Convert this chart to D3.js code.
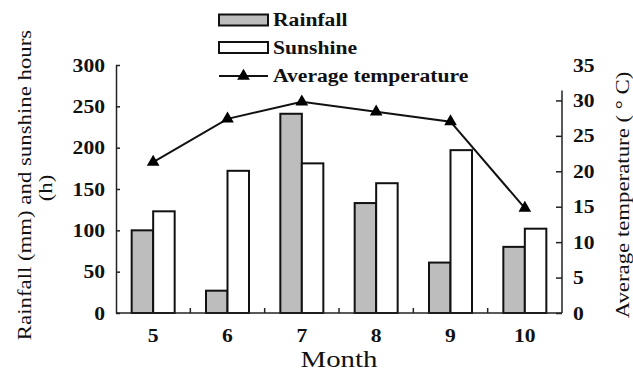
<!DOCTYPE html>
<html>
<head>
<meta charset="utf-8">
<script src="https://cdn.jsdelivr.net/npm/d3@7"></script>
<style>
  body { margin: 0; background: #fff; }
</style>
</head>
<body>
<svg id="chart" width="633" height="371"></svg>
<script>
const months = ['5', '6', '7', '8', '9', '10'];
const rainfall = [100, 27, 241, 133, 61, 80];
const sunshine = [123, 172, 181, 157, 197, 102];
const temperature = [21.3, 27.4, 29.8, 28.4, 27.0, 14.8];
const leftTicks = [0, 50, 100, 150, 200, 250, 300];
const rightTicks = [0, 5, 10, 15, 20, 25, 30, 35];

const W = 633, H = 371;
const margin = {top: 65, right: 71, bottom: 58, left: 116};
const x0 = margin.left, x1 = W - margin.right, yBottom = H - margin.bottom, yTop = margin.top;
const FONT = '"Liberation Serif"';
const STRETCH = 1.2; // source image is a bit wide, so widen the glyphs

const svg = d3.select('#chart');

// set font and widen text horizontally (along its own direction)
function serif(sel, size, weight) {
  sel.style('font-family', FONT)
     .style('font-size', size + 'px')
     .style('font-weight', weight || 'normal')
     .attr('fill', '#111');
  sel.each(function() {
    var len = this.getComputedTextLength();
    d3.select(this).attr('textLength', len * STRETCH).attr('lengthAdjust', 'spacingAndGlyphs');
  });
}

var xScale = d3.scaleBand().domain(months).range([x0, x1]);
var yLeft = d3.scaleLinear().domain([0, 300]).range([yBottom, yTop]);
var yRight = d3.scaleLinear().domain([0, 35]).range([yBottom, yTop]);
var barW = 21.5;

// bars
svg.append('g').selectAll('rect.rain')
  .data(rainfall)
  .enter().append('rect')
  .attr('class', 'rain')
  .attr('x', (d, i) => xScale(months[i]) + xScale.bandwidth() / 2 - barW)
  .attr('y', d => yLeft(d))
  .attr('width', barW)
  .attr('height', d => yBottom - yLeft(d))
  .attr('fill', '#bdbdbd')
  .attr('stroke', '#111')
  .attr('stroke-width', 2);

svg.append('g').selectAll('rect.sun')
  .data(sunshine)
  .enter().append('rect')
  .attr('class', 'sun')
  .attr('x', (d, i) => xScale(months[i]) + xScale.bandwidth() / 2)
  .attr('y', d => yLeft(d))
  .attr('width', barW)
  .attr('height', d => yBottom - yLeft(d))
  .attr('fill', '#fff')
  .attr('stroke', '#111')
  .attr('stroke-width', 2);

// x axis (ticks on band boundaries, pointing up)
var gX = svg.append('g').attr('transform', 'translate(0,' + yBottom + ')');
gX.append('line').attr('x1', x0).attr('x2', x1).attr('stroke', '#222').attr('stroke-width', 1.5);
gX.selectAll('line.tk')
  .data(months.slice(1))
  .enter().append('line')
  .attr('x1', d => xScale(d)).attr('x2', d => xScale(d))
  .attr('y1', 0).attr('y2', -5)
  .attr('stroke', '#222').attr('stroke-width', 1.5);
gX.selectAll('text')
  .data(months)
  .enter().append('text')
  .attr('x', d => xScale(d) + xScale.bandwidth() / 2)
  .attr('y', 29)
  .attr('text-anchor', 'middle')
  .text(d => d)
  .call(serif, 18, 'bold');

// left axis
var gY = svg.append('g')
  .attr('transform', 'translate(' + x0 + ',0)')
  .call(d3.axisRight(yLeft).tickValues(leftTicks).tickSize(4).tickSizeOuter(0));
gY.select('.domain').attr('stroke', '#222').attr('stroke-width', 1.5);
gY.selectAll('.tick line').attr('stroke', '#222').attr('stroke-width', 1.5);
gY.selectAll('.tick text')
  .attr('x', -11).attr('dy', '0.34em')
  .attr('text-anchor', 'end')
  .call(serif, 18, 'bold');

// right axis
var gY2 = svg.append('g')
  .attr('transform', 'translate(' + x1 + ',0)')
  .call(d3.axisLeft(yRight).tickValues(rightTicks).tickSize(6).tickSizeOuter(0));
gY2.select('.domain')
  .attr('d', 'M0,' + yBottom + 'V' + (yRight(31.4)))
  .attr('stroke', '#222').attr('stroke-width', 1.5);
gY2.selectAll('.tick line').attr('stroke', '#222').attr('stroke-width', 1.5)
  .filter(d => d === 35).remove();
gY2.selectAll('.tick text')
  .attr('x', 11).attr('dy', '0.34em')
  .attr('text-anchor', 'start')
  .call(serif, 18, 'bold');

// temperature line
var line = d3.line()
  .x((d, i) => xScale(months[i]) + xScale.bandwidth() / 2)
  .y(d => yRight(d));
svg.append('path')
  .datum(temperature)
  .attr('d', line)
  .attr('fill', 'none')
  .attr('stroke', '#111')
  .attr('stroke-width', 2);
svg.selectAll('path.marker')
  .data(temperature)
  .enter().append('path')
  .attr('class', 'marker')
  .attr('d', d3.symbol().type(d3.symbolTriangle).size(70))
  .attr('transform', (d, i) => 'translate(' + (xScale(months[i]) + xScale.bandwidth() / 2) + ',' + yRight(d) + ')')
  .attr('fill', '#000');

// axis titles
svg.append('text')
  .attr('transform', 'translate(' + (x0 + x1) / 2 + ',' + (H - 4) + ')')
  .attr('text-anchor', 'middle')
  .text('Month')
  .call(serif, 24);

svg.append('text')
  .attr('transform', 'translate(31,185) rotate(-90)')
  .attr('text-anchor', 'middle')
  .text('Rainfall (mm) and sunshine hours')
  .call(serif, 19);
svg.append('text')
  .attr('transform', 'translate(52,188) rotate(-90)')
  .attr('text-anchor', 'middle')
  .text('(h)')
  .call(serif, 19);

svg.append('text')
  .attr('transform', 'translate(629,195) rotate(-90)')
  .attr('text-anchor', 'middle')
  .text('Average temperature ( ° C)')
  .call(serif, 19);

// legend
var legend = svg.append('g').attr('transform', 'translate(219,0)');
var legendItems = ['Rainfall', 'Sunshine', 'Average temperature'];
var rowY = [20, 47.5, 76];
legend.append('rect').attr('x', 0).attr('y', rowY[0] - 5.5).attr('width', 49).attr('height', 11)
  .attr('fill', '#bdbdbd').attr('stroke', '#111').attr('stroke-width', 2);
legend.append('rect').attr('x', 0).attr('y', rowY[1] - 5.5).attr('width', 49).attr('height', 11)
  .attr('fill', '#fff').attr('stroke', '#111').attr('stroke-width', 2);
legend.append('line').attr('x1', 0).attr('x2', 49).attr('y1', rowY[2]).attr('y2', rowY[2])
  .attr('stroke', '#111').attr('stroke-width', 2);
legend.append('path')
  .attr('d', d3.symbol().type(d3.symbolTriangle).size(70))
  .attr('transform', 'translate(24.5,' + rowY[2] + ')')
  .attr('fill', '#000');
legend.selectAll('text.lg')
  .data(legendItems)
  .enter().append('text')
  .attr('class', 'lg')
  .attr('x', 54)
  .attr('y', (d, i) => rowY[i])
  .attr('dy', '0.35em')
  .text(d => d)
  .call(serif, 18, 'bold');
</script>
</body>
</html>
